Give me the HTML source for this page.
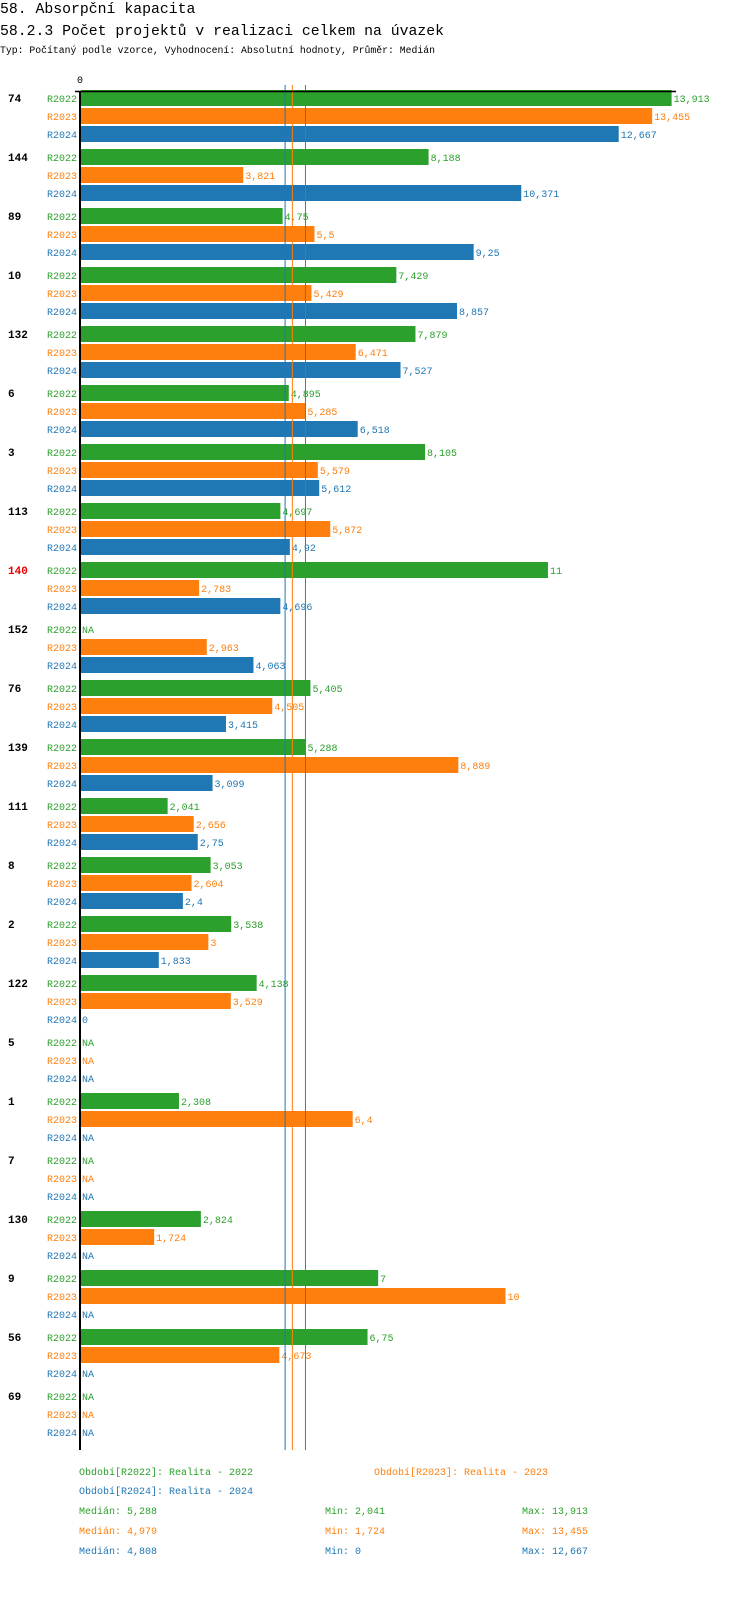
<!DOCTYPE html>
<html><head><meta charset="utf-8"><style>
body{margin:0;background:#fff;width:750px;height:1592px;overflow:hidden}
svg text{font-family:"Liberation Mono","DejaVu Sans Mono",monospace}
</style></head><body>
<svg id="c" width="750" height="1592" xmlns="http://www.w3.org/2000/svg">
<text x="0" y="13" font-size="14.8">58. Absorpční kapacita</text>
<text x="0" y="35" font-size="14.8">58.2.3 Počet projektů v realizaci celkem na úvazek</text>
<text x="0" y="53" font-size="9.8">Typ: Počítaný podle vzorce, Vyhodnocení: Absolutní hodnoty, Průměr: Medián</text>
<text x="77" y="83" font-size="10">0</text>
<g id="bars"></g>
<line x1="75" y1="91.5" x2="676" y2="91.5" stroke="#000" stroke-width="1.5"/>
<line x1="80" y1="91" x2="80" y2="1450" stroke="#000" stroke-width="2"/>
<g id="legend" font-size="10">
<text x="79" y="1475" fill="#2ca02c">Období[R2022]: Realita - 2022</text>
<text x="374" y="1475" fill="#ff7f0e">Období[R2023]: Realita - 2023</text>
<text x="79" y="1494" fill="#1f77b4">Období[R2024]: Realita - 2024</text>
<text x="79" y="1514" fill="#2ca02c">Medián: 5,288</text>
<text x="325" y="1514" fill="#2ca02c">Min: 2,041</text>
<text x="522" y="1514" fill="#2ca02c">Max: 13,913</text>
<text x="79" y="1534" fill="#ff7f0e">Medián: 4,979</text>
<text x="325" y="1534" fill="#ff7f0e">Min: 1,724</text>
<text x="522" y="1534" fill="#ff7f0e">Max: 13,455</text>
<text x="79" y="1554" fill="#1f77b4">Medián: 4,808</text>
<text x="325" y="1554" fill="#1f77b4">Min: 0</text>
<text x="522" y="1554" fill="#1f77b4">Max: 12,667</text>
</g>
</svg>
<script>
const categories=["74","144","89","10","132","6","3","113","140","152","76","139","111","8","2","122","5","1","7","130","9","56","69"];
const r2022=[13.913,8.188,4.75,7.429,7.879,4.895,8.105,4.697,11,null,5.405,5.288,2.041,3.053,3.538,4.138,null,2.308,null,2.824,7,6.75,null];
const r2023=[13.455,3.821,5.5,5.429,6.471,5.285,5.579,5.872,2.783,2.963,4.505,8.889,2.656,2.604,3,3.529,null,6.4,null,1.724,10,4.673,null];
const r2024=[12.667,10.371,9.25,8.857,7.527,6.518,5.612,4.92,4.696,4.063,3.415,3.099,2.75,2.4,1.833,0,null,null,null,null,null,null,null];
const seriesNames=["R2022","R2023","R2024"];
const medians=[5.288,4.979,4.808];
const highlighted=["140"];
const colors=["#2ca02c","#ff7f0e","#1f77b4"];
const series=[r2022,r2023,r2024];
const NS="http://www.w3.org/2000/svg";
const g=document.getElementById('bars');
const x=v=>81+v*42.45;
const y=(gi,ri)=>98+gi*59+ri*18;
function mk(t,a){const e=document.createElementNS(NS,t);for(const k in a)e.setAttribute(k,a[k]);g.appendChild(e);return e;}
categories.forEach((c,gi)=>{
  const t=mk('text',{x:8,y:y(gi,0)+4,'font-size':11,'font-weight':'bold',fill:highlighted.includes(c)?'#e00':'#000'});
  t.textContent=c;
  
  
  series.forEach((s,ri)=>{
    const yc=y(gi,ri),v=s[gi];
    const l=mk('text',{x:77,y:yc+4,'font-size':10,fill:colors[ri],'text-anchor':'end'});
    l.textContent=seriesNames[ri];
    
    
    let end=82;
    if(v!==null&&v>0){
      const r=mk('rect',{x:81,y:yc-8,width:x(v)-81,height:16,fill:colors[ri]});
      
      
      end=x(v)+2;
    }
    const vl=mk('text',{x:end,y:yc+4,'font-size':10,fill:colors[ri]});
    vl.textContent=v===null?'NA':String(v).replace('.',',');
    
    
  });
});
[2,1,0].forEach(i=>{
  const m=mk('line',{x1:x(medians[i]),x2:x(medians[i]),y1:85,y2:1450,stroke:colors[i],'stroke-width':1});
  
  
});
</script>
</body></html>
